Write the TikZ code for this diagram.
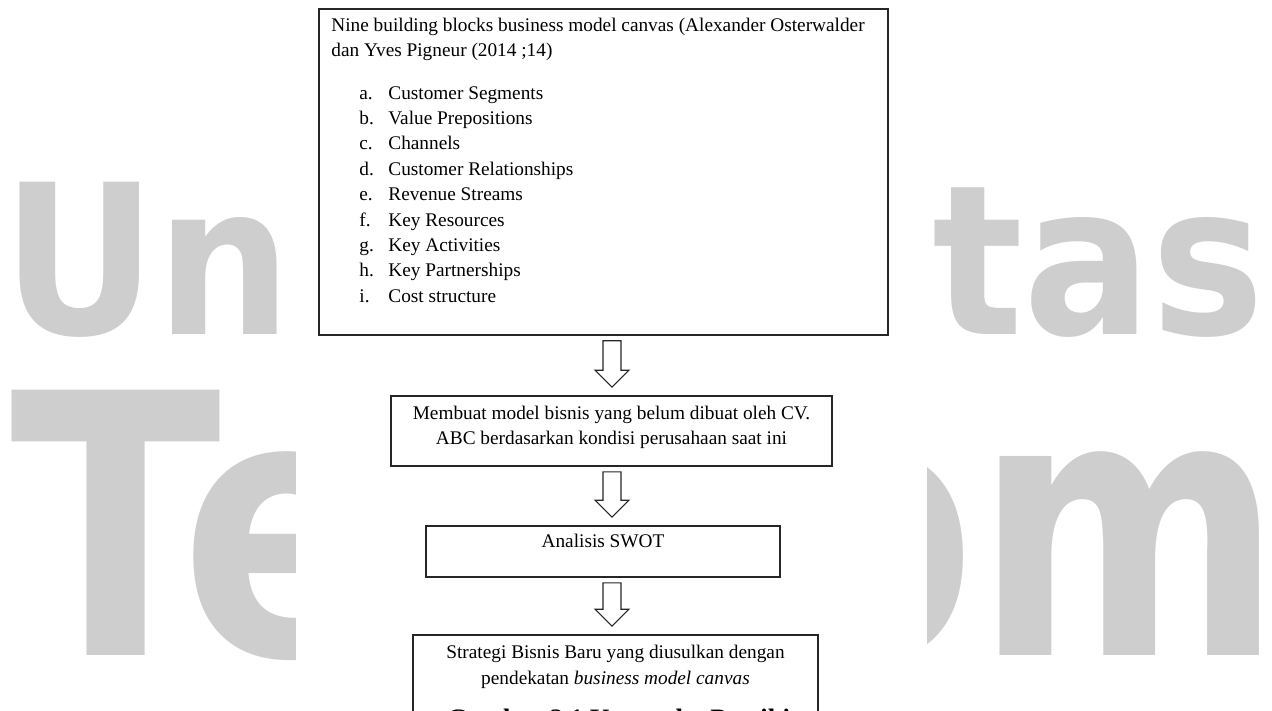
\documentclass[tikz,border=0pt]{standalone}
\usepackage{fontspec}
\setmainfont{Liberation Serif}
\newfontfamily\wmfont{DejaVu Sans}
\usetikzlibrary{positioning,calc}
\definecolor{wmgray}{RGB}{206,206,206}

\begin{document}
\begin{tikzpicture}[
x=1pt, y=-1pt,
box/.style={draw=black!85, line width=1.6pt, fill=white, inner sep=0pt},
boxtext/.style={inner sep=0pt, align=center, font=\fontsize{19.3}{25.4}\selectfont},
arrowline/.style={draw=black!85, line width=1.1pt, fill=white, line join=miter},
wmsmall/.style={inner sep=0pt, text=wmgray, font=\wmfont\bfseries\fontsize{209}{209}\selectfont},
wmlarge/.style={inner sep=0pt, text=wmgray, font=\wmfont\bfseries\fontsize{364}{364}\selectfont}
]
\useasboundingbox (0,0) rectangle (1272,711);

% watermark, the middle is hidden by the page
\node[wmsmall, xscale=0.91, anchor=base west] (wmun) at (2,335) {Un};
\node[wmsmall, xscale=0.91, anchor=base east] (wmtas) at (1265,335) {tas};
\node[wmlarge, xscale=0.85, anchor=base west] (wmte) at (10,655) {Te};
\node[wmlarge, xscale=0.81, anchor=base east] (wmom) at (1283,655) {om};
\fill[white] (296,0) rectangle (927,711);

\node[box, minimum width=569pt, minimum height=326pt] (bmc) at (603.5,172) {};
\node[box, minimum width=441pt, minimum height=70pt] (model) at (611.5,431) {};
\node[box, minimum width=354pt, minimum height=51pt] (swot) at (603,551.5) {};
\node[box, minimum width=405pt, minimum height=125pt] (strategy) at (615.5,697.5) {};

\node[boxtext, align=left, below right=9.6pt and 13pt of bmc.north west] (bmclist) {%
Nine building blocks business model canvas (Alexander Osterwalder\\
dan Yves Pigneur (2014 ;14)\\[17pt]
\hspace*{28pt}\makebox[29pt][l]{a.}Customer Segments\\
\hspace*{28pt}\makebox[29pt][l]{b.}Value Prepositions\\
\hspace*{28pt}\makebox[29pt][l]{c.}Channels\\
\hspace*{28pt}\makebox[29pt][l]{d.}Customer Relationships\\
\hspace*{28pt}\makebox[29pt][l]{e.}Revenue Streams\\
\hspace*{28pt}\makebox[29pt][l]{f.}Key Resources\\
\hspace*{28pt}\makebox[29pt][l]{g.}Key Activities\\
\hspace*{28pt}\makebox[29pt][l]{h.}Key Partnerships\\
\hspace*{28pt}\makebox[29pt][l]{i.}Cost structure};
\node[boxtext, below=10.5pt of model.north] (modeltext) {Membuat model bisnis yang belum dibuat oleh CV.\\ABC berdasarkan kondisi perusahaan saat ini};
\node[boxtext, below=8.5pt of swot.north] (swottext) {Analisis SWOT};
\node[boxtext, below=11pt of strategy.north] (strategytext) {Strategi Bisnis Baru yang diusulkan dengan\\pendekatan \textit{business model canvas}};

% hollow arrows between the boxes
\coordinate (arrowx) at (612,0);
\foreach \a/\b in {bmc/model, model/swot, swot/strategy}
  \draw[arrowline] ($(arrowx |- \a.south)+(-9,5)$) -- ($(arrowx |- \b.north)+(-9,-25)$) -- ++(-8,0) -- ($(arrowx |- \b.north)+(0,-8)$) -- ($(arrowx |- \b.north)+(17,-25)$) -- ++(-8,0) -- ($(arrowx |- \a.south)+(9,5)$) -- cycle;

\node[anchor=base west, inner sep=0pt, font=\bfseries\fontsize{26.6}{30}\selectfont] (caption) at (447,727) {Gambar 2.1 Kerangka Pemikiran};
\end{tikzpicture}
\end{document}
